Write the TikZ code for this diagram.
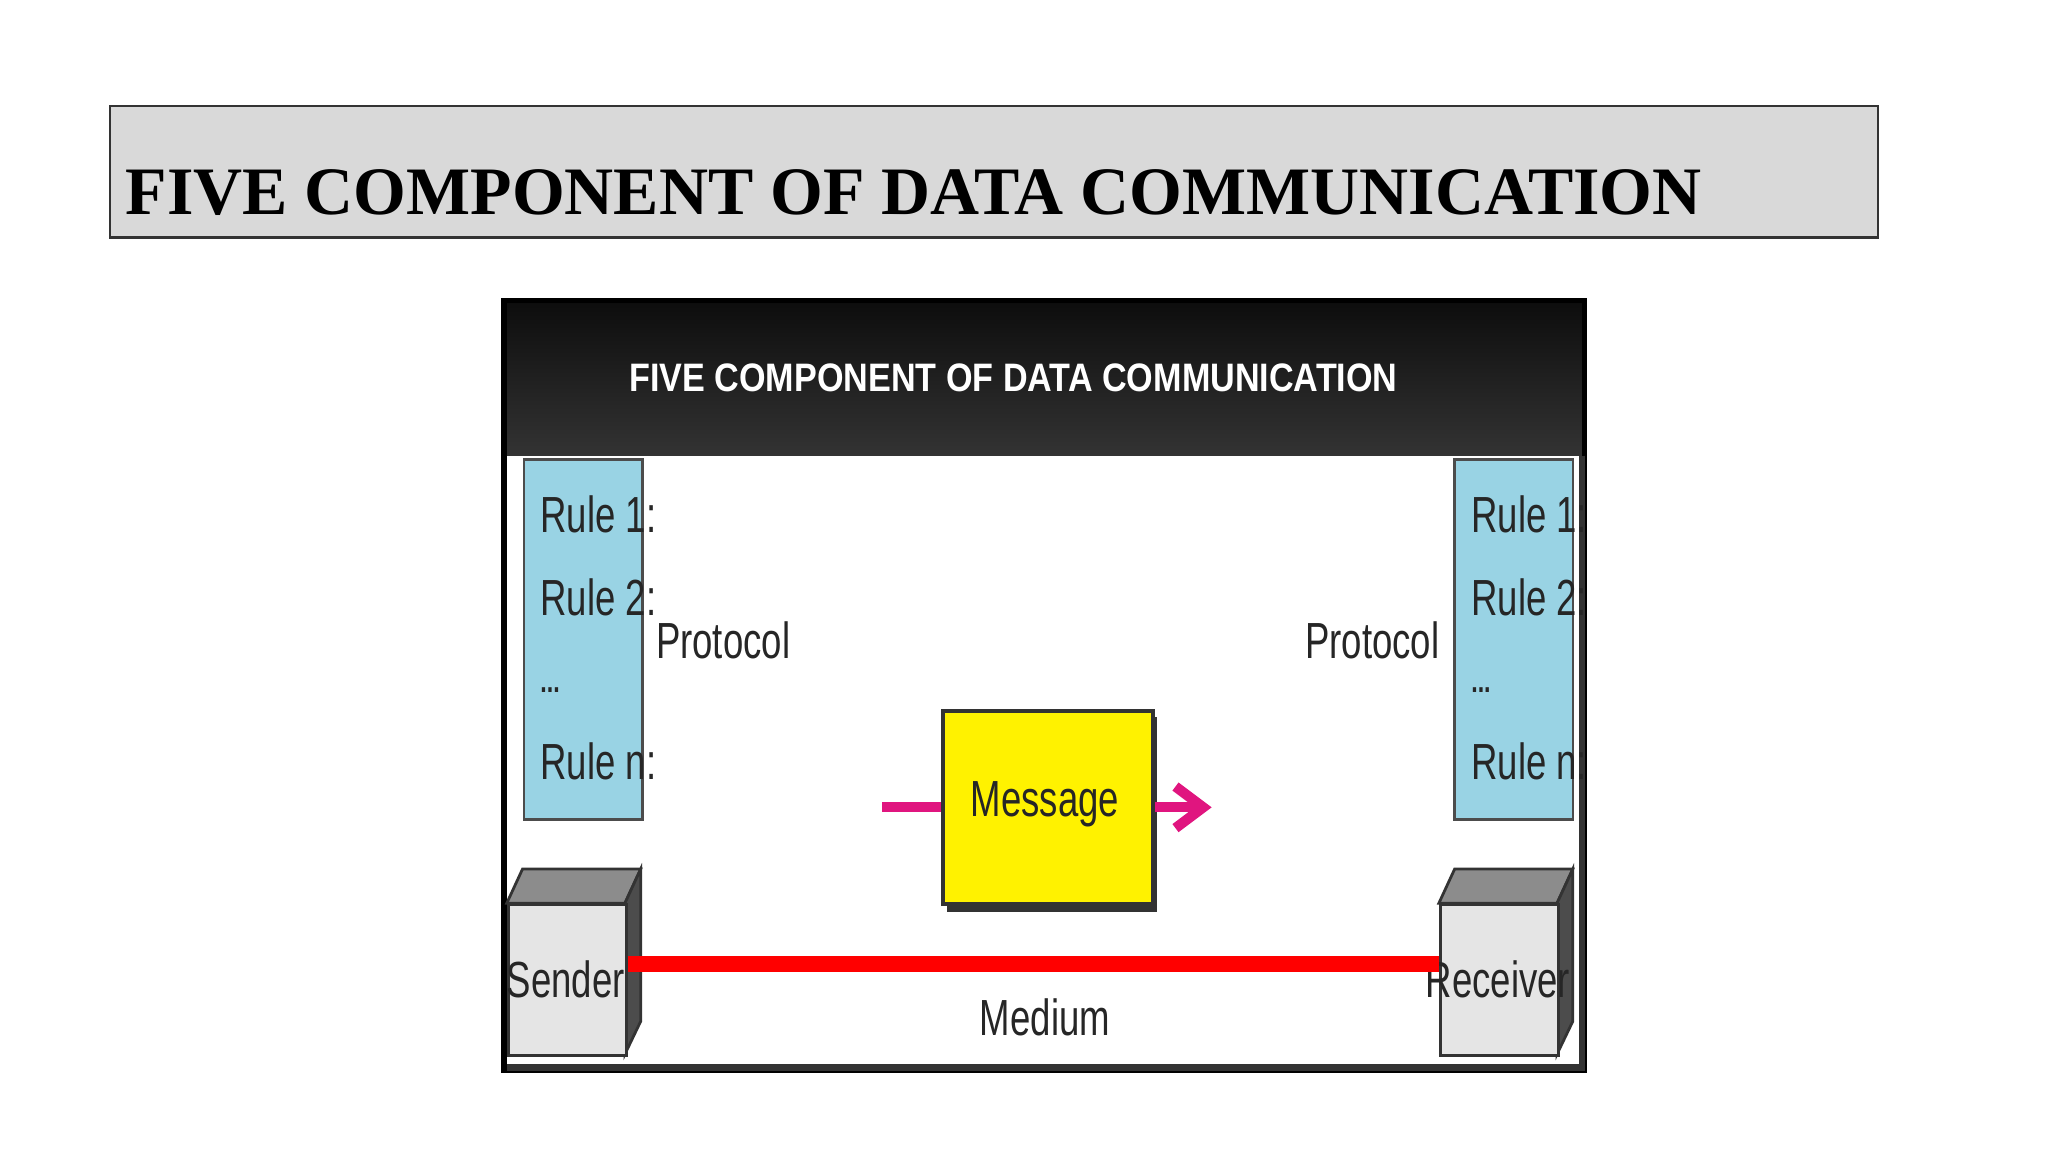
\documentclass[tikz,border=0pt]{standalone}
\usepackage{fontspec}
\setmainfont{Liberation Serif}
\newfontfamily\sansf{Liberation Sans}
\newfontfamily\condf[FakeStretch=0.72]{Liberation Sans}
\newfontfamily\hdrf[FakeStretch=0.86]{Liberation Sans}
\usetikzlibrary{shadings,arrows.meta}
\definecolor{rulebox}{HTML}{99D3E4}
\definecolor{magentaarrow}{HTML}{E0157F}
\tikzset{
  condtext/.style={font=\condf\fontsize{11}{13}\selectfont, inner sep=0pt, text=black!85},
  rulesbox/.style={fill=rulebox, draw=black!70, line width=0.6pt},
}
\begin{document}
\begin{tikzpicture}[x=0.01cm,y=-0.01cm]
\useasboundingbox[fill=white] (0,0) rectangle (1560,878);
% title
\node[draw=black!80, fill=black!15, line width=0.5pt, minimum width=13.46cm, minimum height=1cm, anchor=north west, inner sep=0pt] (titlebox) at (83,80) {};
\node[anchor=base west, font=\bfseries\fontsize{14.7}{17}\selectfont, inner sep=0pt] (title) at (95,163) {FIVE COMPONENT OF DATA COMMUNICATION};
% image frame
\fill[white] (384,229) rectangle (1207,815);
\shade[top color=black!95, bottom color=black!80] (384,229) rectangle (1207,347);
\draw[black, line width=1.2pt] (384,229) rectangle (1207,815);
\draw[black!80, line width=1.5pt] (1205,347) -- (1205,813) -- (386,813);
\node[text=white, font=\hdrf\bfseries\fontsize{8.6}{10}\selectfont, inner sep=0pt] (hdr) at (772,288) {FIVE COMPONENT OF DATA COMMUNICATION};
% rule boxes
\node[rulesbox, anchor=north west, minimum width=0.9cm, minimum height=2.74cm, inner sep=0pt] (lrules) at (398,349) {};
\node[rulesbox, anchor=north west, minimum width=0.9cm, minimum height=2.74cm, inner sep=0pt] (rrules) at (1107,349) {};
\foreach \xx/\nm in {411/l,1120/r}{
  \node[condtext, anchor=west] (\nm r1) at (\xx,392) {Rule 1:};
  \node[condtext, anchor=west] (\nm r2) at (\xx,455) {Rule 2:};
  \node[condtext, anchor=west, font=\condf\bfseries\fontsize{7}{8}\selectfont] (\nm rd) at (\xx,526) {...};
  \node[condtext, anchor=west] (\nm rn) at (\xx,580) {Rule n:};
}
\node[condtext, anchor=west] (lproto) at (499,488) {Protocol};
\node[condtext, anchor=east] (rproto) at (1097,488) {Protocol};
% message
\fill[black!80] (721,546) rectangle (881,695);
\node[fill=yellow, draw=black!80, line width=0.8pt, anchor=north west, minimum width=1.6cm, minimum height=1.47cm, inner sep=0pt] (msg) at (717,540) {};
\node[condtext] (msgt) at (796,613) {Message};
\coordinate (ain) at ([xshift=-0.45cm]msg.west);
\coordinate (aout) at ([xshift=0.43cm]msg.east);
\draw[magentaarrow, line width=2.2pt] (ain) -- (msg.west);
\draw[magentaarrow, line width=2.2pt, -{Straight Barb[length=6pt,width=9pt]}] (msg.east) -- (aout);
% sender / receiver cubes
\foreach \xx/\nm in {386/snd,1096/rcv}{
  \fill[black!45, draw=black!80, line width=0.6pt] (\xx,688) -- (\xx+12,662) -- (\xx+102,662) -- (\xx+90,688) -- cycle;
  \fill[black!70, draw=black!80, line width=0.6pt] (\xx+90,688) -- (\xx+102,662) -- (\xx+102,778) -- (\xx+90,803) -- cycle;
  \node[fill=black!10, draw=black!80, line width=0.6pt, anchor=north west, minimum width=0.9cm, minimum height=1.15cm, inner sep=0pt] (\nm) at (\xx,688) {};
}
\node[condtext] (sndt) at (431,746) {Sender};
\node[condtext] (rcvt) at (1141,746) {Receiver};
\draw[red, line width=0.12cm] ([yshift=0.125cm]snd.east) -- ([yshift=0.125cm]rcv.west);
\node[condtext] (medium) at (796,775) {Medium};
\end{tikzpicture}
\end{document}
